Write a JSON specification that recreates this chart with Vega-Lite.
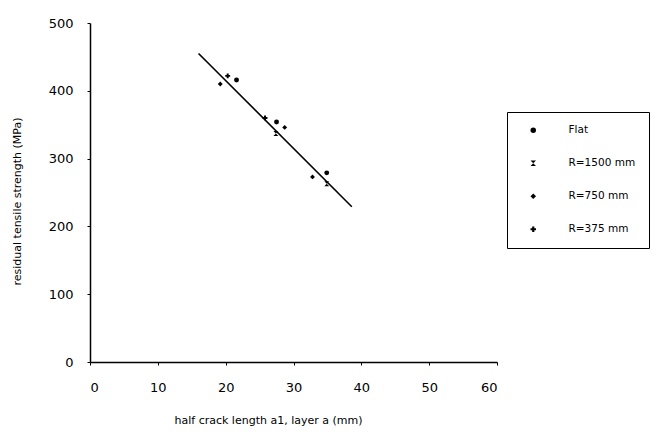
{
  "$schema": "https://vega.github.io/schema/vega-lite/v6.json",
  "width": 407,
  "height": 339,
  "autosize": "none",
  "padding": {"left": 90, "top": 23, "right": 163, "bottom": 73},
  "background": "white",
  "config": {
    "view": {"stroke": null},
    "font": "DejaVu Sans",
    "axis": {"domainColor": "black", "domainWidth": 1.5, "tickColor": "black", "grid": false, "labelColor": "black", "titleColor": "black", "titleFontWeight": "normal"}
  },
  "datasets": {
    "pts": [
      {"a": 21.6, "s": 416, "series": "Flat"},
      {"a": 27.5, "s": 354, "series": "Flat"},
      {"a": 34.9, "s": 279, "series": "Flat"},
      {"a": 27.4, "s": 337, "series": "R=1500 mm"},
      {"a": 34.9, "s": 263, "series": "R=1500 mm"},
      {"a": 19.2, "s": 410, "series": "R=750 mm"},
      {"a": 28.7, "s": 346, "series": "R=750 mm"},
      {"a": 32.8, "s": 273, "series": "R=750 mm"},
      {"a": 20.3, "s": 422, "series": "R=375 mm"},
      {"a": 25.8, "s": 360, "series": "R=375 mm"}
    ],
    "fit": [
      {"a": 16.0, "s": 455},
      {"a": 38.6, "s": 229}
    ]
  },
  "layer": [
    {
      "data": {"name": "fit"},
      "mark": {"type": "line", "color": "black", "strokeWidth": 1.6},
      "encoding": {
        "x": {"field": "a", "type": "quantitative", "scale": {"domain": [0, 60], "nice": false},
          "axis": {"values": [0, 10, 20, 30, 40, 50, 60], "tickSize": 3, "labelPadding": 16, "labelFontSize": 13, "title": "half crack length a1, layer a (mm)", "titleFontSize": 11, "titleX": 178, "titleY": 52}},
        "y": {"field": "s", "type": "quantitative", "scale": {"domain": [0, 500], "nice": false},
          "axis": {"values": [0, 100, 200, 300, 400, 500], "tickSize": 3, "labelPadding": 14, "labelFontSize": 13, "title": "residual tensile strength (MPa)", "titleFontSize": 11, "titleX": -68, "titleY": 178}}
      }
    },
    {
      "data": {"name": "pts"},
      "mark": {"type": "point", "filled": true, "color": "black", "opacity": 1},
      "encoding": {
        "x": {"field": "a", "type": "quantitative"},
        "y": {"field": "s", "type": "quantitative"},
        "shape": {"field": "series", "type": "nominal",
          "scale": {"domain": ["Flat", "R=1500 mm", "R=750 mm", "R=375 mm"], "range": ["circle", "M-1,-1L1,-1L-1,1L1,1Z", "diamond", "cross"]},
          "legend": {"title": null, "orient": "none", "legendX": 417, "legendY": 89, "strokeColor": "black", "fillColor": "white", "padding": 13, "symbolOffset": 8, "rowPadding": 21, "symbolSize": 30, "symbolFillColor": "black", "symbolStrokeColor": "black", "symbolType": "circle", "labelFontSize": 10.5, "labelOffset": 30, "labelColor": "black"}},
        "size": {"value": 24}
      }
    }
  ]
}
